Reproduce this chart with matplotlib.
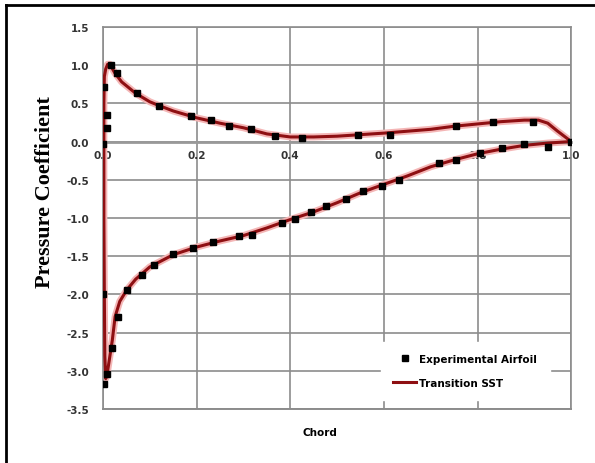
import matplotlib.pyplot as plt
from matplotlib.lines import Line2D

# experimental Cp points (upper surface then lower surface)
exp_x = [0.0, 0.008, 0.008, 0.002, 0.017, 0.03, 0.072, 0.12, 0.188, 0.23, 0.27, 0.316,
         0.368, 0.426, 0.545, 0.612, 0.755, 0.832, 0.918, 1.0,
         0.0, 0.002, 0.009, 0.02, 0.032, 0.051, 0.083, 0.109, 0.15, 0.193, 0.235, 0.29,
         0.318, 0.383, 0.41, 0.445, 0.477, 0.52, 0.556, 0.595, 0.633, 0.717, 0.755,
         0.805, 0.853, 0.90, 0.95]
exp_cp = [-0.03, 0.18, 0.35, 0.71, 1.0, 0.89, 0.63, 0.47, 0.33, 0.28, 0.2, 0.17,
          0.07, 0.05, 0.09, 0.08, 0.2, 0.25, 0.26, 0.0,
          -1.99, -3.17, -3.04, -2.70, -2.29, -1.94, -1.74, -1.62, -1.47, -1.39, -1.31, -1.23,
          -1.22, -1.06, -1.01, -0.92, -0.84, -0.75, -0.65, -0.58, -0.5, -0.28, -0.24,
          -0.15, -0.08, -0.03, -0.07]

# Transition SST curve, trailing edge -> upper -> leading edge -> lower -> trailing edge
sst_x = [1.0, 0.97, 0.95, 0.93, 0.9, 0.85, 0.8, 0.75, 0.7, 0.6, 0.55, 0.5, 0.45, 0.4,
         0.35, 0.3, 0.25, 0.2, 0.15, 0.12, 0.1, 0.07, 0.04, 0.025, 0.015, 0.01, 0.006,
         0.003, 0.002, 0.002, 0.002, 0.003, 0.004, 0.006, 0.01, 0.015, 0.02, 0.026,
         0.036, 0.051, 0.07, 0.1, 0.15, 0.2, 0.25, 0.3, 0.35, 0.4, 0.45, 0.5, 0.55,
         0.6, 0.65, 0.7, 0.75, 0.8, 0.85, 0.9, 0.95, 1.0]
sst_cp = [0.0, 0.14, 0.24, 0.28, 0.28, 0.26, 0.23, 0.2, 0.16, 0.11, 0.09, 0.07, 0.06,
          0.06, 0.1, 0.18, 0.24, 0.31, 0.4, 0.47, 0.52, 0.63, 0.78, 0.9, 1.01, 1.01, 0.95,
          0.85, 0.5, 0.0, -1.0, -2.0, -2.8, -3.1, -3.0, -2.8, -2.6, -2.29,
          -2.09, -1.94, -1.8, -1.64, -1.48, -1.38, -1.3, -1.23, -1.13, -1.02, -0.92,
          -0.8, -0.67, -0.56, -0.45, -0.33, -0.24, -0.16, -0.1, -0.05, -0.02, 0.0]

fig = plt.figure(figsize=(5.95, 4.64), dpi=100)
ax = fig.add_axes([0.173, 0.116, 0.787, 0.824])

ax.plot(sst_x, sst_cp, color='#f4b6b6', lw=5, zorder=2, solid_capstyle='round')
ax.plot(sst_x, sst_cp, color='#8e0f12', lw=2.2, zorder=3)
ax.plot(exp_x, exp_cp, 's', color='black', ms=5, zorder=4)

ax.set_xlim(0, 1.0)
ax.set_ylim(-3.5, 1.5)
ax.set_xticks([0.0, 0.2, 0.4, 0.6, 0.8, 1.0])
ax.set_xticklabels(['0.0', '0.2', '0.4', '0.6', '0.8', '1.0'])
ax.set_yticks([1.5, 1.0, 0.5, 0.0, -0.5, -1.0, -1.5, -2.0, -2.5, -3.0, -3.5])
ax.set_yticklabels(['%.1f' % v for v in ax.get_yticks()])
ax.grid(True, color='#8c8c8c', lw=1.2)
ax.set_axisbelow(True)

for s in ['top', 'right', 'left']:
    ax.spines[s].set_color('#8c8c8c')
    ax.spines[s].set_linewidth(1.2)
ax.spines['bottom'].set_position(('data', 0))
ax.spines['bottom'].set_color('#999999')
ax.spines['bottom'].set_linewidth(2)
ax.axhline(-3.5, color='#8c8c8c', lw=1.4, clip_on=False)
ax.tick_params(length=0, labelsize=7.5, labelcolor='#333333', pad=6)
ax.tick_params(axis='y', pad=10)
for t in ax.get_xticklabels() + ax.get_yticklabels():
    t.set_fontweight('bold')

fig.text(0.076, 0.586, 'Pressure Coefficient', family='Liberation Serif', fontweight='bold',
         fontsize=16, rotation=90, ha='center', va='center')
fig.text(0.538, 0.066, 'Chord', ha='center', va='center', fontsize=7.5, fontweight='bold')

handles = [Line2D([], [], ls='', marker='s', color='black', ms=5),
           Line2D([], [], color='#8e0f12', lw=2.2)]
leg = ax.legend(handles, ['Experimental Airfoil', 'Transition SST'], loc='lower right',
                bbox_to_anchor=(0.965, 0.01), frameon=True, fancybox=False, edgecolor='white',
                framealpha=1, prop={'size': 7.5, 'weight': 'bold'}, handlelength=2.2,
                handletextpad=0.3, labelspacing=1.3, borderpad=1.2)

# page frame: left and top edges
fig.add_artist(Line2D([0.01, 0.01], [0.0, 0.987], color='black', lw=2))
fig.add_artist(Line2D([0.01, 1.0], [0.987, 0.987], color='black', lw=2))

fig.savefig('out.png', dpi=100)
